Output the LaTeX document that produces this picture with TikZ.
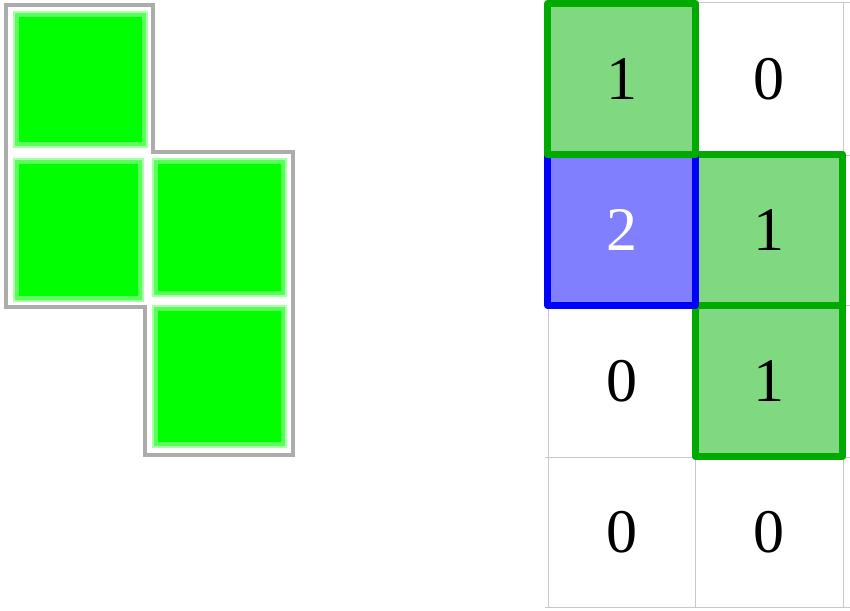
\documentclass[tikz,border=0pt]{standalone}
\usepackage{fontspec}
\setmainfont{Liberation Serif}
\usepackage{xcolor}
\definecolor{tetGreen}{RGB}{0,255,0}
\definecolor{tetEdge}{RGB}{90,255,90}
\definecolor{tetHalo}{RGB}{170,255,170}
\definecolor{mapGreen}{RGB}{0,170,0}
\definecolor{mapGreenFill}{RGB}{128,216,128}
\definecolor{mapBlue}{RGB}{0,0,255}
\definecolor{mapBlueFill}{RGB}{128,128,255}
\definecolor{mapGrid}{RGB}{200,200,200}
\usepackage{tikz}
\usetikzlibrary{positioning}

\begin{document}
\begin{tikzpicture}[x=1pt,y=-1pt,
  blk/.style={fill=tetGreen,draw=tetEdge,line width=4pt,inner sep=0pt,
    preaction={draw=tetHalo,line width=8pt}},
  shell/.style={draw=gray!65,line width=3.5pt,line join=miter},
  cell/.style={minimum width=147pt,minimum height=151pt,inner sep=0pt,font=\fontsize{62}{62}\selectfont},
  one/.style={cell,fill=mapGreenFill},
  two/.style={cell,fill=mapBlueFill,text=white},
  rim/.style={line width=7pt,line join=round}]
  \useasboundingbox (0,0) rectangle (850,610);

  % tetromino on the left
  \draw[shell] (6,5) -- (153,5) -- (153,152) -- (293,152) -- (293,455)
    -- (145,455) -- (145,307) -- (6,307) -- cycle;
  \node[blk,minimum width=127pt,minimum height=129pt] (t1) at (80.5,79.5) {};
  \node[blk,minimum width=123pt,minimum height=136pt] (t2) at (78.5,230) {};
  \node[blk,minimum width=127pt,minimum height=131pt] (t3) at (219.5,227.5) {};
  \node[blk,minimum width=127pt,minimum height=135pt] (t4) at (219.5,376.5) {};

  % count grid on the right
  \node[one] (c00) at (621.5,79) {1};
  \node[cell] (c01) at (769,79) {0};
  \node[two] (c10) at (621.5,230) {2};
  \node[one] (c11) at (769,230) {1};
  \node[cell] (c20) at (621.5,381) {0};
  \node[one] (c21) at (769,381) {1};
  \node[cell] (c30) at (621.5,532) {0};
  \node[cell] (c31) at (769,532) {0};

  \foreach \gx in {548,695,843}
    \draw[mapGrid,line width=1pt] (\gx,3) -- (\gx,607);
  \foreach \gy in {3,155,305,457,607}
    \draw[mapGrid,line width=1pt] (545,\gy) -- (850,\gy);

  \draw[rim,mapGreen] (c11.north west) rectangle (c11.south east);
  \draw[rim,mapGreen] (c21.north west) rectangle (c21.south east);
  \draw[rim,mapBlue] (c10.north west) rectangle (c10.south east);
  \draw[rim,mapGreen] (c00.north west) rectangle (c00.south east);
\end{tikzpicture}
\end{document}
